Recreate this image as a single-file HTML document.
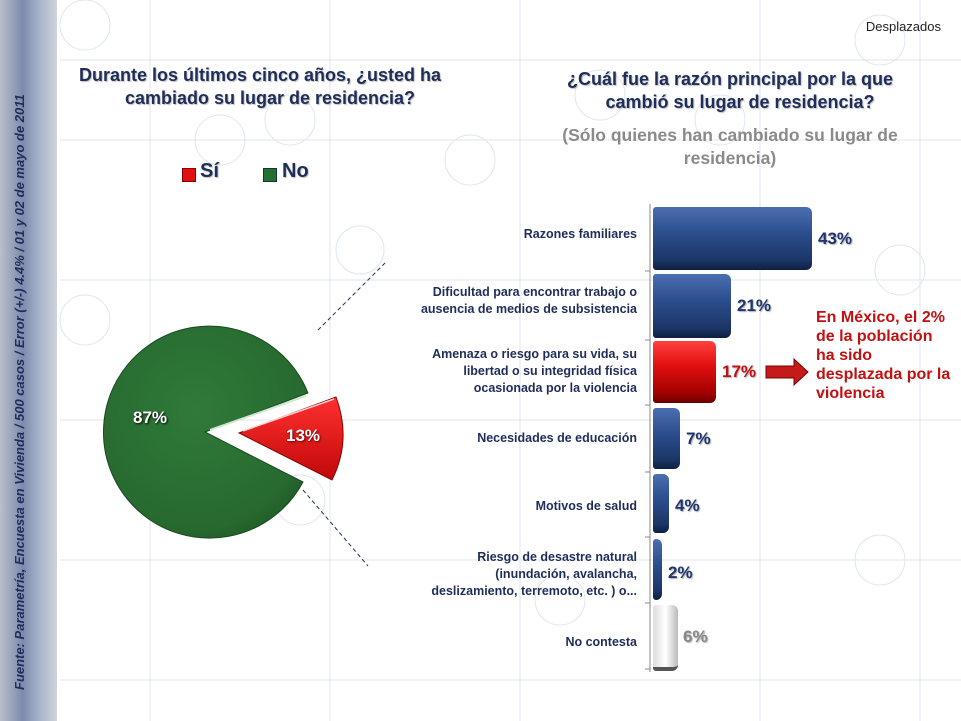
<!DOCTYPE html>
<html><head><meta charset="utf-8"><style>
body{margin:0;width:961px;height:721px;overflow:hidden;background:#fff;font-family:"Liberation Sans",sans-serif;position:relative}
.a{position:absolute}
.t{color:#1f2d5a;font-weight:bold;text-shadow:1px 1px 1px rgba(0,0,0,.25)}
.lbl{position:absolute;right:324px;text-align:right;font-size:12.5px;line-height:17px;color:#1f2d5a;font-weight:bold;white-space:nowrap}
.bar{position:absolute;left:653px;border-radius:3px 6px 6px 3px;background:linear-gradient(#4a6fb0,#2d4f8f 40%,#1b3566 85%,#0f1f40)}
.v{position:absolute;font-size:17px;font-weight:bold;color:#1f3570;text-shadow:1px 1px 1px rgba(0,0,0,.3)}
</style></head><body>
<svg class="a" style="left:0;top:0" width="961" height="721">
<defs><linearGradient id="s" x1="0" x2="1"><stop offset="0" stop-color="#b8c0cc"/><stop offset=".4" stop-color="#7d8aac"/><stop offset=".7" stop-color="#a8b4cc"/><stop offset="1" stop-color="#d0d4da"/></linearGradient>
<radialGradient id="g" cx=".45" cy=".4" r=".7"><stop offset="0" stop-color="#2f7a3a"/><stop offset=".8" stop-color="#27692f"/><stop offset="1" stop-color="#1d5325"/></radialGradient>
<linearGradient id="r" x1="0" y1="0" x2="0" y2="1"><stop offset="0" stop-color="#ff3030"/><stop offset="1" stop-color="#c00808"/></linearGradient></defs>
<rect x="0" y="0" width="57" height="721" fill="url(#s)"/>
<g stroke="#dfe6ee" fill="none" stroke-width="1">
<circle cx="85" cy="25" r="25"/><circle cx="300" cy="500" r="25"/><circle cx="220" cy="140" r="25"/><circle cx="360" cy="250" r="24"/><circle cx="290" cy="120" r="25"/><circle cx="600" cy="95" r="25"/><circle cx="720" cy="120" r="25"/><circle cx="880" cy="40" r="25"/><circle cx="900" cy="270" r="25"/><circle cx="880" cy="560" r="25"/><circle cx="560" cy="600" r="25"/><circle cx="85" cy="320" r="25"/><circle cx="470" cy="160" r="25"/>
<line x1="60" y1="60" x2="961" y2="60"/><line x1="60" y1="140" x2="961" y2="140"/><line x1="60" y1="280" x2="961" y2="280"/><line x1="60" y1="420" x2="961" y2="420"/><line x1="60" y1="560" x2="961" y2="560"/><line x1="60" y1="680" x2="961" y2="680"/>
<line x1="150" y1="0" x2="150" y2="721"/><line x1="330" y1="0" x2="330" y2="721"/><line x1="520" y1="0" x2="520" y2="721"/><line x1="760" y1="0" x2="760" y2="721"/><line x1="920" y1="0" x2="920" y2="721"/>
</g>
<line x1="318" y1="330" x2="385" y2="263" stroke="#1f2d5a" stroke-dasharray="4,3"/>
<line x1="303" y1="490" x2="368" y2="566" stroke="#1f2d5a" stroke-dasharray="4,3"/>
<path d="M205 432 L308 393 A106 106 0 1 0 303 482 Z" fill="url(#g)" stroke="#1a4a20"/>
<path d="M210 430 L306 396" stroke="#cfe8d0" stroke-width="2"/>
<path d="M239 433 L336 397 Q352 440 332 480 Z" fill="url(#r)" stroke="#8a0000"/>
<path d="M243 431 L334 399" stroke="#ffd0d0" stroke-width="1.5"/>
<line x1="650" y1="204" x2="650" y2="672" stroke="#888"/>
<g stroke="#888"><line x1="645" y1="271" x2="650" y2="271"/><line x1="645" y1="340" x2="650" y2="340"/><line x1="645" y1="405" x2="650" y2="405"/><line x1="645" y1="472" x2="650" y2="472"/><line x1="645" y1="537" x2="650" y2="537"/><line x1="645" y1="603" x2="650" y2="603"/><line x1="645" y1="669" x2="650" y2="669"/></g>
<path d="M766 366 h28 v-7 l14 13 l-14 13 v-7 h-28z" fill="#c41a1a" stroke="#7a0000"/>
</svg>
<div class="a" style="left:12px;top:690px;transform:rotate(-90deg);transform-origin:0 0;width:640px;font-size:13px;font-style:italic;font-weight:bold;color:#1f2d5a;white-space:nowrap">Fuente: Parametría, Encuesta en Vivienda / 500 casos / Error (+/-) 4.4% / 01 y 02 de mayo de 2011</div>
<div class="a" style="right:20px;top:19px;font-size:13px;color:#222">Desplazados</div>
<div class="a t" style="left:70px;top:64px;width:380px;text-align:center;font-size:18px;line-height:23px">Durante los últimos cinco años, ¿usted ha<br>&nbsp;&nbsp;&nbsp;&nbsp;cambiado su lugar de residencia?</div>
<div class="a t" style="left:530px;top:68px;width:400px;text-align:center;font-size:18px;line-height:23px">¿Cuál fue la razón principal por la que<br>&nbsp;&nbsp;&nbsp;&nbsp;cambió su lugar de residencia?</div>
<div class="a" style="left:530px;top:124px;width:400px;text-align:center;font-size:17.5px;line-height:23px;font-weight:bold;color:#8a8a8a">(Sólo quienes han cambiado su lugar de<br>residencia)</div>
<div class="a" style="left:182px;top:168px;width:12px;height:12px;background:#e01010;border:1px solid #800"></div>
<div class="a t" style="left:200px;top:160px;font-size:20px">Sí</div>
<div class="a" style="left:263px;top:168px;width:12px;height:12px;background:#237030;border:1px solid #134"></div>
<div class="a t" style="left:282px;top:160px;font-size:20px">No</div>
<div class="a" style="left:133px;top:408px;font-size:17px;font-weight:bold;color:#fff;text-shadow:1px 1px 2px #000">87%</div>
<div class="a" style="left:286px;top:426px;font-size:17px;font-weight:bold;color:#fff;text-shadow:1px 1px 2px #600">13%</div>
<div class="lbl" style="top:226px">Razones familiares</div>
<div class="lbl" style="top:284px">Dificultad para encontrar trabajo o<br>ausencia de medios de subsistencia</div>
<div class="lbl" style="top:346px">Amenaza o riesgo para su vida, su<br>libertad o su integridad física<br>ocasionada por la violencia</div>
<div class="lbl" style="top:430px">Necesidades de educación</div>
<div class="lbl" style="top:498px">Motivos de salud</div>
<div class="lbl" style="top:549px">Riesgo de desastre natural<br>(inundación, avalancha,<br>deslizamiento, terremoto, etc. ) o...</div>
<div class="lbl" style="top:634px">No contesta</div>
<div class="bar" style="top:207px;height:63px;width:159px"></div>
<div class="bar" style="top:274px;height:64px;width:78px"></div>
<div class="bar" style="top:341px;height:62px;width:63px;background:linear-gradient(#ff4040,#e01010 40%,#a00000 85%,#600)"></div>
<div class="bar" style="top:408px;height:61px;width:27px"></div>
<div class="bar" style="top:474px;height:59px;width:16px"></div>
<div class="bar" style="top:539px;height:61px;width:9px"></div>
<div class="bar" style="top:605px;height:62px;width:25px;background:linear-gradient(90deg,#ddd,#fff 50%,#bbb);border-bottom:4px solid #555"></div>
<div class="v" style="left:818px;top:229px">43%</div>
<div class="v" style="left:737px;top:296px">21%</div>
<div class="v" style="left:722px;top:362px;color:#c41010">17%</div>
<div class="v" style="left:686px;top:429px">7%</div>
<div class="v" style="left:675px;top:496px">4%</div>
<div class="v" style="left:668px;top:563px">2%</div>
<div class="v" style="left:683px;top:627px;color:#888">6%</div>
<div class="a" style="left:816px;top:308px;font-size:16px;line-height:19px;font-weight:bold;color:#c41010">En México, el 2%<br>de la población<br>ha sido<br>desplazada por la<br>violencia</div>
</body></html>
